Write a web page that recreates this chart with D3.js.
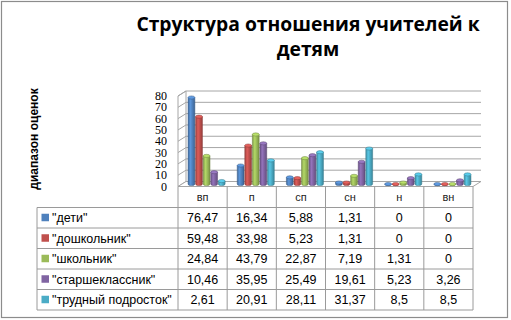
<!DOCTYPE html>
<html lang="ru">
<head>
<meta charset="utf-8"/>
<title>Структура отношения учителей к детям</title>
<style>
    body { margin: 0; background: #fff; }
    .title { font: bold 19.3px "Open Sans", sans-serif; fill: #000; }
    .ytitle { font: bold 12px "Liberation Sans", sans-serif; fill: #000; }
    .ytick { font: 12px "Liberation Serif", serif; fill: #000; }
    .cell { font: 12.5px "Liberation Sans", sans-serif; fill: #000; }
    .head { font: 11px "Liberation Sans", sans-serif; fill: #222; }
</style>
</head>
<body>
<div id="graph"></div>
<script src="https://cdnjs.cloudflare.com/ajax/libs/d3/7.8.5/d3.min.js"></script>
<script>
    var categories = ["вп", "п", "сп", "сн", "н", "вн"];
    var seriesNames = ["\"дети\"", "\"дошкольник\"", "\"школьник\"", "\"старшеклассник\"", "\"трудный подросток\""];
    var seriesColors = ["#4F81BD", "#C0504D", "#9BBB59", "#8064A2", "#4BACC6"];
    var deti = [76.47, 16.34, 5.88, 1.31, 0, 0];
    var doshkolnik = [59.48, 33.98, 5.23, 1.31, 0, 0];
    var shkolnik = [24.84, 43.79, 22.87, 7.19, 1.31, 0];
    var starsheklassnik = [10.46, 35.95, 25.49, 19.61, 5.23, 3.26];
    var trudny = [2.61, 20.91, 28.11, 31.37, 8.5, 8.5];
    var yTicks = [0, 10, 20, 30, 40, 50, 60, 70, 80];

    var seriesValues = [deti, doshkolnik, shkolnik, starsheklassnik, trudny];

    var width = 511, height = 320;
    var plotLeft = 178, plotRight = 473, floorY = 186.5;
    var depthX = 8, depthY = -5;   // 3d offset of the back wall
    var rowH = 20.5, tableTop = 187, legendLeft = 37;

    var svg = d3.select("#graph").append("svg")
        .attr("width", width)
        .attr("height", height);

    var defs = svg.append("defs");
    seriesColors.forEach(function (c, i) {
        var g = defs.append("linearGradient").attr("id", "grad" + i)
            .attr("x1", "0").attr("x2", "1").attr("y1", "0").attr("y2", "0");
        var base = d3.color(c);
        g.append("stop").attr("offset", "0%").attr("stop-color", base.darker(0.5));
        g.append("stop").attr("offset", "35%").attr("stop-color", base.brighter(0.4));
        g.append("stop").attr("offset", "100%").attr("stop-color", base.darker(0.7));
    });

    // outer frame
    svg.append("rect")
        .attr("x", 1.5).attr("y", 1.5)
        .attr("width", 506).attr("height", 316)
        .attr("fill", "#fff")
        .attr("stroke", "#8c8c8c")
        .attr("stroke-width", 1.2);

    // title
    svg.append("text").attr("class", "title")
        .attr("x", 308).attr("y", 31)
        .attr("text-anchor", "middle")
        .text("Структура отношения учителей к");
    svg.append("text").attr("class", "title")
        .attr("x", 308).attr("y", 56)
        .attr("text-anchor", "middle")
        .text("детям");

    var y = d3.scaleLinear().domain([0, 80]).range([floorY, 96]);
    var x0 = d3.scaleBand().domain(categories).range([plotLeft, plotRight]);
    var x1 = d3.scaleBand().domain(d3.range(seriesNames.length))
        .range([0, x0.bandwidth()])
        .paddingInner(0.1)
        .paddingOuter(0.8);

    // walls and floor
    svg.append("path")
        .attr("d", "M" + plotLeft + "," + floorY +
            "L" + plotLeft + "," + y(80) +
            "L" + (plotLeft + depthX) + "," + (y(80) + depthY) +
            "L" + (plotLeft + depthX) + "," + (floorY + depthY) + "Z")
        .attr("fill", "#fff").attr("stroke", "#a6a6a6");
    svg.append("path")
        .attr("d", "M" + plotLeft + "," + floorY +
            "L" + plotRight + "," + floorY +
            "L" + (plotRight + depthX) + "," + (floorY + depthY) +
            "L" + (plotLeft + depthX) + "," + (floorY + depthY) + "Z")
        .attr("fill", "#fff").attr("stroke", "#a6a6a6");

    // gridlines
    svg.selectAll(".grid")
        .data(yTicks.filter(function (t) { return t > 0; }))
        .enter().append("polyline")
        .attr("class", "grid")
        .attr("points", function (t) {
            return plotLeft + "," + y(t) + " " +
                (plotLeft + depthX) + "," + (y(t) + depthY) + " " +
                (plotRight + depthX) + "," + (y(t) + depthY);
        })
        .attr("fill", "none")
        .attr("stroke", "#a6a6a6")
        .attr("stroke-width", 1);

    // y tick labels
    svg.selectAll(".ytick")
        .data(yTicks)
        .enter().append("text")
        .attr("class", "ytick")
        .attr("x", 167)
        .attr("y", function (t) { return y(t) + 4; })
        .attr("text-anchor", "end")
        .text(function (t) { return t; });

    svg.append("text").attr("class", "ytitle")
        .attr("transform", "translate(38,139) rotate(-90)")
        .attr("text-anchor", "middle")
        .text("диапазон оценок");

    // bars as cylinders
    var midX = depthX / 2, midY = depthY / 2;
    var bars = [];
    seriesValues.forEach(function (vals, s) {
        vals.forEach(function (v, c) {
            bars.push({ s: s, c: c, v: v });
        });
    });
    var bar = svg.selectAll(".bar")
        .data(bars)
        .enter().append("g")
        .attr("class", "bar")
        .attr("transform", function (d) {
            return "translate(" + (x0(categories[d.c]) + x1(d.s) + midX) + "," + midY + ")";
        });
    var bw = x1.bandwidth(), ry = 1.6;
    bar.append("path")
        .attr("d", function (d) {
            var top = y(d.v), bot = floorY;
            return "M0," + top + "L0," + bot +
                "A" + (bw / 2) + "," + ry + " 0 0 0 " + bw + "," + bot +
                "L" + bw + "," + top + "Z";
        })
        .attr("fill", function (d) { return "url(#grad" + d.s + ")"; })
        .attr("stroke", function (d) { return d3.color(seriesColors[d.s]).darker(1); })
        .attr("stroke-width", 0.5);
    bar.append("ellipse")
        .attr("cx", bw / 2)
        .attr("cy", function (d) { return y(d.v); })
        .attr("rx", bw / 2)
        .attr("ry", ry)
        .attr("fill", function (d) { return d3.color(seriesColors[d.s]).brighter(0.5); })
        .attr("stroke", function (d) { return d3.color(seriesColors[d.s]).darker(1); })
        .attr("stroke-width", 0.5);

    // data table
    var table = svg.append("g").attr("class", "table");
    var lineColor = "#9a9a9a";
    var tableBottom = tableTop + rowH * (seriesNames.length + 1);

    table.append("line")
        .attr("x1", legendLeft).attr("x2", plotRight)
        .attr("y1", tableTop + rowH).attr("y2", tableTop + rowH)
        .attr("stroke", lineColor);
    seriesNames.forEach(function (n, i) {
        var yy = tableTop + rowH * (i + 2);
        table.append("line")
            .attr("x1", legendLeft).attr("x2", plotRight)
            .attr("y1", yy).attr("y2", yy)
            .attr("stroke", lineColor);
    });
    table.append("line")
        .attr("x1", legendLeft).attr("x2", legendLeft)
        .attr("y1", tableTop + rowH).attr("y2", tableBottom)
        .attr("stroke", lineColor);
    categories.concat(["end"]).forEach(function (c, i) {
        var xx = i < categories.length ? x0(c) : plotRight;
        table.append("line")
            .attr("x1", xx).attr("x2", xx)
            .attr("y1", floorY).attr("y2", tableBottom)
            .attr("stroke", lineColor);
    });

    table.selectAll(".head")
        .data(categories)
        .enter().append("text")
        .attr("class", "head")
        .attr("x", function (c) { return x0(c) + x0.bandwidth() / 2; })
        .attr("y", tableTop + rowH / 2 + 4)
        .attr("text-anchor", "middle")
        .text(function (c) { return c; });

    seriesNames.forEach(function (n, i) {
        var cy = tableTop + rowH * (i + 1) + rowH / 2;
        table.append("rect")
            .attr("x", 41.5).attr("y", cy - 4)
            .attr("width", 7.5).attr("height", 7.5)
            .attr("fill", seriesColors[i]);
        table.append("text").attr("class", "cell")
            .attr("x", 52).attr("y", cy + 4.5)
            .text(n);
        table.selectAll(".v" + i)
            .data(seriesValues[i])
            .enter().append("text")
            .attr("class", "cell v" + i)
            .attr("x", function (v, c) { return x0(categories[c]) + x0.bandwidth() / 2; })
            .attr("y", cy + 4.5)
            .attr("text-anchor", "middle")
            .text(function (v) { return String(v).replace(".", ","); });
    });
</script>
</body>
</html>
